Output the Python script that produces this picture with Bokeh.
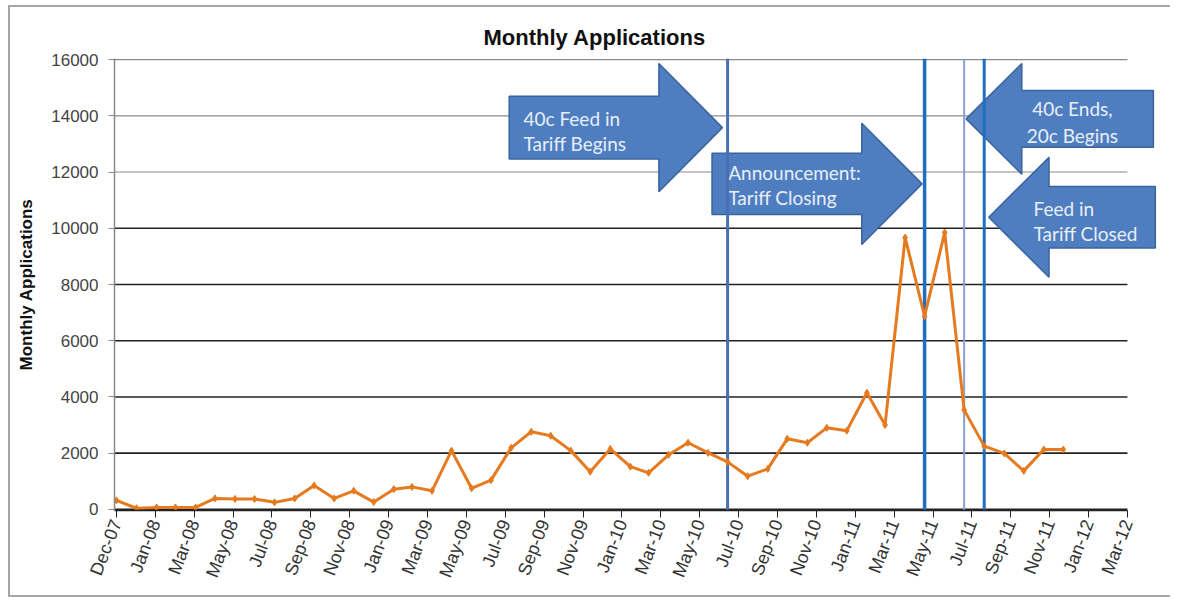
import pandas as pd
from bokeh.plotting import figure
from bokeh.models import Range1d, FixedTicker
from bokeh.core.properties import value
from bokeh.embed import file_html
from bokeh.resources import INLINE

# ---------------- data ----------------
months = [
    "2007-12",
    "2008-01", "2008-02", "2008-03", "2008-04", "2008-05", "2008-06",
    "2008-07", "2008-08", "2008-09", "2008-10", "2008-11", "2008-12",
    "2009-01", "2009-02", "2009-03", "2009-04", "2009-05", "2009-06",
    "2009-07", "2009-08", "2009-09", "2009-10", "2009-11", "2009-12",
    "2010-01", "2010-02", "2010-03", "2010-04", "2010-05", "2010-06",
    "2010-07", "2010-08", "2010-09", "2010-10", "2010-11", "2010-12",
    "2011-01", "2011-02", "2011-03", "2011-04", "2011-05", "2011-06",
    "2011-07", "2011-08", "2011-09", "2011-10", "2011-11", "2011-12",
]
applications = [
    320,
    40, 70, 70, 70, 390, 370,
    370, 250, 390, 850, 390, 660,
    260, 720, 800, 660, 2090, 750,
    1040, 2190, 2760, 2620, 2090, 1340,
    2150, 1520, 1300, 1940, 2370, 2010,
    1690, 1180, 1440, 2510, 2370, 2900,
    2800, 4150, 3000, 9670, 6870, 9850,
    3540, 2250, 1990, 1370, 2130, 2130,
]
tick_labels = [
    "Dec-07", "Jan-08", "Mar-08", "May-08", "Jul-08", "Sep-08", "Nov-08",
    "Jan-09", "Mar-09", "May-09", "Jul-09", "Sep-09", "Nov-09",
    "Jan-10", "Mar-10", "May-10", "Jul-10", "Sep-10", "Nov-10",
    "Jan-11", "Mar-11", "May-11", "Jul-11", "Sep-11", "Nov-11",
    "Jan-12", "Mar-12",
]
y_ticks = [0, 2000, 4000, 6000, 8000, 10000, 12000, 14000, 16000]

event_dates = ["2010-07-01", "2011-05-01", "2011-07-01", "2011-08-01"]
event_colors = ["#4a6fb5", "#1f6ec0", "#8aa0cc", "#1f6ec0"]
event_widths = [3, 3.5, 2, 3]

# arrow annotations: (event index, direction, tip offset [days], tip y,
#                     head length [days], body length [days], head half-height, body half-height)
arrows = [
    (0, "right", -8, 13580, 98, 231, 2280, 1113),
    (1, "right", -4, 11580, 93, 231, 2157, 1090),
    (2, "left", 3, 13892, 86, 203, 1973, 1006),
    (3, "left", 7, 10393, 93, 164, 2133, 1095),
]
# arrow texts: (x [days], y, text, align)
arrow_texts = [
    (628, 13902, "40c Feed in", "left"),
    (628, 13013, "Tariff Begins", "left"),
    (944, 11982, "Announcement:", "left"),
    (944, 11093, "Tariff Closing", "left"),
    (1475, 14258, "40c Ends,", "center"),
    (1475, 13298, "20c Begins", "center"),
    (1415, 10702, "Feed in", "left"),
    (1415, 9813, "Tariff Closed", "left"),
]

# ---------------- derived ----------------
start = pd.Timestamp(months[0])
x_days = [(pd.Timestamp(m) - start).days for m in months]
event_x = [(pd.Timestamp(d) - start).days for d in event_dates]
tick_pos = [60 * i for i in range(len(tick_labels))]
x_end_axis = tick_pos[-1]

p = figure(
    width=1162, height=592,
    output_backend="svg", toolbar_location=None,
    x_range=Range1d(-3, 1611), y_range=Range1d(-40, 16040),
    min_border_left=104, min_border_right=12,
    min_border_top=51, min_border_bottom=89,
)
p.styles = {
    "margin-left": "8px",
    "margin-top": "5px",
    "border-left": "2px solid #a6a6a6",
    "border-top": "2px solid #a6a6a6",
    "border-bottom": "2px solid #a6a6a6",
    "border-right": "0px none",
}
p.outline_line_color = None
p.xgrid.visible = False
p.ygrid.visible = False
p.background_fill_color = "white"
p.border_fill_color = "white"

# title
p.title.text = "Monthly Applications"
p.title.text_font = "Liberation Sans"
p.title.text_font_style = "bold"
p.title.text_font_size = "22px"
p.title.text_color = "#111111"
p.title.align = "left"
p.title.offset = 369
p.title.standoff = 18

# x axis
xa = p.xaxis[0]
xa.ticker = FixedTicker(ticks=tick_pos)
xa.major_label_overrides = {t: l for t, l in zip(tick_pos, tick_labels)}
xa.bounds = (-3, x_end_axis)
xa.major_label_orientation = 1.2
xa.minor_tick_line_color = None
xa.major_tick_in = 0
xa.major_tick_out = 7
xa.major_tick_line_color = "#222222"
xa.axis_line_color = "#222222"
xa.axis_line_width = 1.5
xa.major_label_text_font = "Liberation Sans"
xa.major_label_text_font_size = "18px"
xa.major_label_text_color = "#333333"
xa.major_label_standoff = 3

# y axis
ya = p.yaxis[0]
ya.ticker = FixedTicker(ticks=y_ticks)
ya.minor_tick_line_color = None
ya.major_tick_in = 0
ya.major_tick_out = 6
ya.major_tick_line_color = "#888888"
ya.axis_line_color = "#888888"
ya.axis_line_width = 1.5
ya.major_label_text_font = "Liberation Sans"
ya.major_label_text_font_size = "17px"
ya.major_label_text_color = "#444444"
ya.major_label_standoff = 10
ya.axis_label = "Monthly Applications"
ya.axis_label_text_font = "Liberation Sans"
ya.axis_label_text_font_style = "bold"
ya.axis_label_text_font_size = "17px"
ya.axis_label_text_color = "#111111"
ya.axis_label_standoff = 12

# horizontal gridlines (stop at axis end like the original)
grid_colors = ["#222222" if v <= 10000 else "#8a8a8a" for v in y_ticks]
grid_widths = [1.6 if v <= 10000 else 1.1 for v in y_ticks]
p.segment(x0=[-3] * len(y_ticks), y0=y_ticks, x1=[x_end_axis] * len(y_ticks), y1=y_ticks,
          line_color=grid_colors, line_width=grid_widths)

# arrows
xs, ys = [], []
for ei, direction, tip_off, ty, head_len, body_len, hh, bh in arrows:
    xt = event_x[ei] + tip_off
    if direction == "right":
        xb = xt - head_len
        xl = xb - body_len
    else:
        xb = xt + head_len
        xl = xb + body_len
    xs.append([xl, xb, xb, xt, xb, xb, xl])
    ys.append([ty + bh, ty + bh, ty + hh, ty, ty - hh, ty - bh, ty - bh])
p.patches(xs, ys, fill_color="#4f7ec0", line_color="#3a639e", line_width=1.5)

for x, y, t, a in arrow_texts:
    p.text(x=[x], y=[y], text=[t], text_font=value("Lato"), text_font_size="19px",
           text_color="#e8eef8", text_align=a, text_baseline="middle")

# event lines
p.segment(x0=event_x, y0=[-40] * len(event_x), x1=event_x, y1=[16040] * len(event_x),
          line_color=event_colors, line_width=event_widths)

# data
p.line(x_days, applications, line_color="#e57a1e", line_width=3)
p.scatter(x_days, applications, marker="diamond", size=7,
          fill_color="#e57a1e", line_color="#e57a1e")

open("out.html", "w").write(file_html(p, INLINE))
